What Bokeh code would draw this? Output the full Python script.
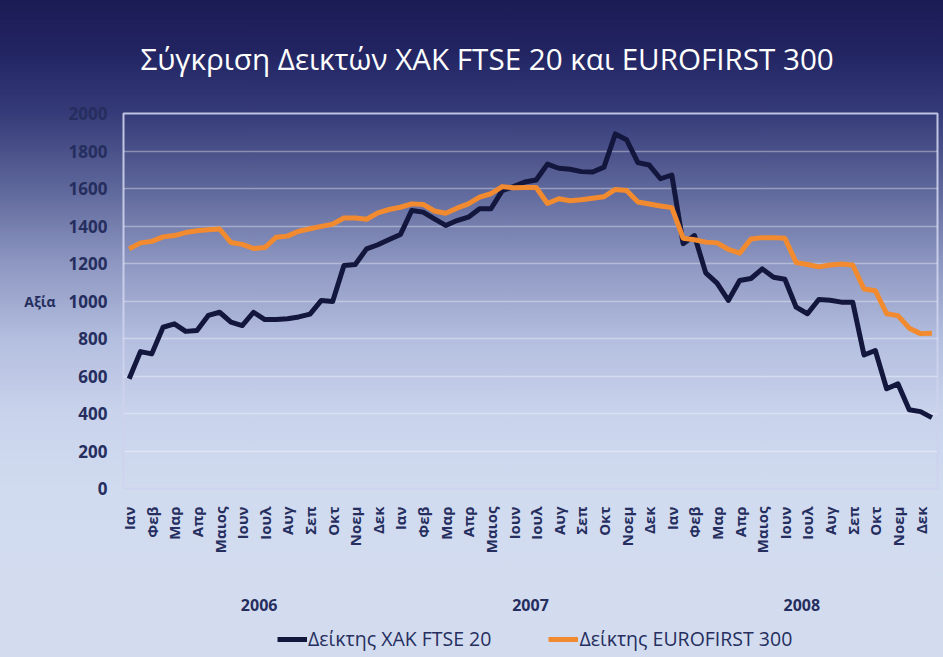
import math
from bokeh.plotting import figure
from bokeh.layouts import column
from bokeh.models import FixedTicker, LinearAxis, Legend, LegendItem, Range1d
from bokeh.embed import file_html
from bokeh.resources import INLINE

# ---------------- data ----------------
title_text = "Σύγκριση Δεικτών ΧΑΚ FTSE 20 και EUROFIRST 300"
months = ["Ιαν", "Φεβ", "Μαρ", "Απρ", "Μαιος", "Ιουν",
          "Ιουλ", "Αυγ", "Σεπ", "Οκτ", "Νοεμ", "Δεκ"]
years = ["2006", "2007", "2008"]
points_per_month = 2
y_ticks = [0, 200, 400, 600, 800, 1000, 1200, 1400, 1600, 1800, 2000]
y_axis_label = "Αξία"
series_names = ["Δείκτης ΧΑΚ FTSE 20", "Δείκτης EUROFIRST 300"]
series_colors = ["#13163d", "#f28b2f"]

ftse20 = [585, 730, 718, 860, 878, 838, 843, 923, 940, 887,
          869, 940, 901, 901, 905, 915, 930, 1003, 997, 1189,
          1195, 1278, 1300, 1328, 1355, 1483, 1474, 1438, 1403, 1429,
          1447, 1492, 1492, 1589, 1610, 1635, 1645, 1730, 1708, 1703,
          1690, 1688, 1714, 1891, 1860, 1738, 1725, 1652, 1672, 1306,
          1349, 1150, 1095, 1003, 1109, 1120, 1171, 1127, 1116, 967,
          932, 1008, 1004, 994, 994, 712, 736, 532, 558, 420,
          410, 378]

eurofirst300 = [1278, 1310, 1318, 1342, 1349, 1365, 1375, 1380, 1384, 1312,
                1302, 1280, 1285, 1340, 1346, 1372, 1385, 1398, 1410, 1443,
                1443, 1436, 1470, 1488, 1500, 1518, 1515, 1480, 1468, 1495,
                1518, 1554, 1572, 1610, 1604, 1605, 1605, 1520, 1545, 1535,
                1540, 1548, 1556, 1595, 1589, 1528, 1517, 1507, 1498, 1335,
                1327, 1314, 1310, 1275, 1255, 1331, 1338, 1338, 1335, 1205,
                1195, 1182, 1192, 1197, 1192, 1064, 1055, 932, 922, 855,
                826, 828]

# ---------------- figure ----------------
n = len(ftse20)
xs = list(range(n))
per_year = points_per_month * len(months)

FONT = "Open Sans"
TXT = "#252e5e"
BOTTOM_BG = "#d3dcef"

p = figure(frame_width=814, frame_height=375, output_backend="svg", toolbar_location=None,
           x_range=Range1d(-0.5, n - 0.5), y_range=Range1d(y_ticks[0], y_ticks[-1]),
           min_border_left=123, min_border_right=6, min_border_top=113,
           min_border_bottom=136)

p.styles = {"background-image":
            "linear-gradient(to bottom, #1b1b55 0px, #222462 50px, #353b78 113px, "
            "#5f689b 190px, #8e98c2 265px, #b4bedf 340px, #c8d2eb 410px, "
            "#d1dbef 490px, #d3dcef 624px)"}
p.background_fill_alpha = 0
p.border_fill_alpha = 0
p.outline_line_color = "#cdd3ec"
p.outline_line_width = 2
p.outline_line_alpha = 0.9

# title
p.title.text = title_text
p.title.align = "left"
p.title.offset = 17
p.title.text_color = "white"
p.title.text_font = FONT
p.title.text_font_size = "29.6px"
p.title.text_font_style = "normal"
p.title.standoff = 70

# grid
p.xgrid.grid_line_color = None
p.ygrid.ticker = FixedTicker(ticks=y_ticks)
p.ygrid.grid_line_color = "white"
p.ygrid.grid_line_alpha = 0.35
p.ygrid.grid_line_width = 1.5

# y axis
ya = p.yaxis[0]
ya.ticker = FixedTicker(ticks=y_ticks)
ya.axis_line_color = None
ya.major_tick_line_color = None
ya.major_tick_out = 0
ya.minor_tick_line_color = None
ya.minor_tick_out = 0
ya.major_label_text_font = FONT
ya.major_label_text_font_style = "bold"
ya.major_label_text_font_size = "17px"
ya.major_label_text_color = TXT
ya.major_label_standoff = 16
ya.axis_label = y_axis_label
ya.axis_label_orientation = "horizontal"
ya.axis_label_text_font = FONT
ya.axis_label_text_font_size = "14px"
ya.axis_label_text_font_style = "bold"
ya.axis_label_text_color = TXT
ya.axis_label_standoff = 10

# month axis
month_ticks = list(range(0, n, points_per_month))
xa = p.xaxis[0]
xa.ticker = FixedTicker(ticks=month_ticks)
xa.major_label_overrides = {t: months[(t // points_per_month) % len(months)] for t in month_ticks}
xa.major_label_orientation = math.pi / 2
xa.axis_line_color = None
xa.major_tick_line_color = None
xa.major_tick_out = 0
xa.minor_tick_line_color = None
xa.minor_tick_out = 0
xa.major_label_text_font = FONT
xa.major_label_text_font_style = "bold"
xa.major_label_text_font_size = "15px"
xa.major_label_text_color = TXT
xa.major_label_standoff = 18

# year axis
year_ticks = [i * per_year + (per_year - 1) / 2 for i in range(len(years))]
ya2 = LinearAxis(ticker=FixedTicker(ticks=year_ticks),
                 major_label_overrides={t: y for t, y in zip(year_ticks, years)})
ya2.axis_line_color = None
ya2.major_tick_line_color = None
ya2.major_tick_out = 0
ya2.minor_tick_line_color = None
ya2.minor_tick_out = 0
ya2.major_label_text_font = FONT
ya2.major_label_text_font_style = "bold"
ya2.major_label_text_font_size = "16px"
ya2.major_label_text_color = TXT
ya2.major_label_standoff = 42
p.add_layout(ya2, "below")

# lines
p.line(xs, ftse20, line_color=series_colors[0], line_width=5, line_join="round")
p.line(xs, eurofirst300, line_color=series_colors[1], line_width=5, line_join="round")

# ---------------- legend strip ----------------
# same series drawn into an out-of-view range: they only serve as legend keys
lf = figure(frame_width=814, frame_height=33, output_backend="svg", toolbar_location=None,
            x_axis_location=None, y_axis_location=None,
            x_range=Range1d(-0.5, n - 0.5), y_range=Range1d(-3000, -2000),
            min_border_left=123, min_border_right=6, min_border_top=0, min_border_bottom=0)
lf.styles = {"background-color": BOTTOM_BG}
lf.background_fill_color = BOTTOM_BG
lf.border_fill_color = BOTTOM_BG
lf.outline_line_color = None
lf.grid.grid_line_color = None
k1 = lf.line(xs, ftse20, line_color=series_colors[0], line_width=5)
k2 = lf.line(xs, eurofirst300, line_color=series_colors[1], line_width=5)

legend = Legend(items=[LegendItem(label=series_names[0], renderers=[k1]),
                       LegendItem(label=series_names[1], renderers=[k2])],
                orientation="horizontal", location=(154, 5))
legend.border_line_color = None
legend.background_fill_alpha = 0
legend.label_text_font = FONT
legend.label_text_font_size = "19.5px"
legend.label_text_color = TXT
legend.glyph_width = 30
legend.glyph_height = 24
legend.label_height = 24
legend.label_standoff = 1
legend.spacing = 57
legend.padding = 0
legend.margin = 0
lf.add_layout(legend, "center")

layout = column(p, lf, spacing=0)
open("out.html", "w").write(file_html(layout, INLINE))
